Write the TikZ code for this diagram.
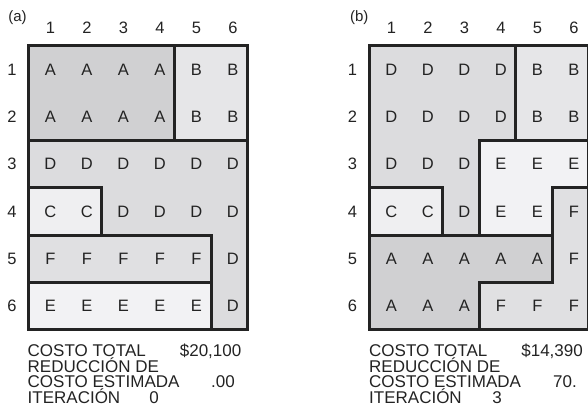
\documentclass[tikz,border=0pt]{standalone}
\usepackage{fontspec}
\setmainfont{Liberation Sans}
\definecolor{shadeA}{RGB}{208,208,210}
\definecolor{shadeB}{RGB}{230,230,232}
\definecolor{shadeC}{RGB}{239,239,241}
\definecolor{shadeD}{RGB}{220,220,222}
\definecolor{shadeE}{RGB}{242,242,244}
\definecolor{shadeF}{RGB}{224,224,226}
\definecolor{ink}{RGB}{35,35,35}
\begin{document}
\begin{tikzpicture}[
  x=1pt, y=-1pt,
  region/.style={draw=ink, line width=3pt, line join=miter},
  cell/.style={font=\fontsize{16.5}{16.5}\selectfont, text=ink, inner sep=0pt},
  axis/.style={font=\fontsize{16.5}{16.5}\selectfont, text=ink, inner sep=0pt},
  tag/.style={font=\fontsize{15}{15}\selectfont, text=ink, inner sep=0pt},
  summary/.style={font=\fontsize{17}{17}\selectfont, text=ink, inner sep=0pt}
]
\useasboundingbox (0,0) rectangle (588,414);
\clip (0,0) rectangle (588,414);

\begin{scope}[shift={(28.5,46)}, x=36.5pt, y=-47.3pt]
\filldraw[region, fill=shadeA] (0,0) rectangle (4,2);
\filldraw[region, fill=shadeB] (4,0) rectangle (6,2);
\filldraw[region, fill=shadeD] (0,2) -- (6,2) -- (6,6) -- (5,6) -- (5,4) -- (2,4) -- (2,3) -- (0,3) -- cycle;
\filldraw[region, fill=shadeC] (0,3) rectangle (2,4);
\filldraw[region, fill=shadeF] (0,4) rectangle (5,5);
\filldraw[region, fill=shadeE] (0,5) rectangle (5,6);
\node[tag] (a-tag) at (-0.3,-0.6) {(a)};
\foreach \c in {1,...,6}
  \node[axis] (a-col-\c) at (\c-0.4,-0.39) {\c};
\foreach \r in {1,...,6}
  \node[axis] (a-row-\r) at (-0.45,\r-0.5) {\r};
\foreach \row [count=\r] in {{A,A,A,A,B,B},{A,A,A,A,B,B},{D,D,D,D,D,D},
                             {C,C,D,D,D,D},{F,F,F,F,F,D},{E,E,E,E,E,D}}
  \foreach \l [count=\c] in \row
    \node[cell] (a-\r-\c) at (\c-0.4,\r-0.5) {\l};
\end{scope}

\begin{scope}[shift={(369.5,46)}, x=36.5pt, y=-47.3pt]
\filldraw[region, fill=shadeD] (0,0) -- (4,0) -- (4,2) -- (3,2) -- (3,4) -- (2,4) -- (2,3) -- (0,3) -- cycle;
\filldraw[region, fill=shadeB] (4,0) rectangle (6,2);
\filldraw[region, fill=shadeE] (3,2) -- (6,2) -- (6,3) -- (5,3) -- (5,4) -- (3,4) -- cycle;
\filldraw[region, fill=shadeC] (0,3) rectangle (2,4);
\filldraw[region, fill=shadeA] (0,4) -- (5,4) -- (5,5) -- (3,5) -- (3,6) -- (0,6) -- cycle;
\filldraw[region, fill=shadeF] (5,3) -- (6,3) -- (6,6) -- (3,6) -- (3,5) -- (5,5) -- cycle;
\node[tag] (b-tag) at (-0.28,-0.6) {(b)};
\foreach \c in {1,...,6}
  \node[axis] (b-col-\c) at (\c-0.4,-0.39) {\c};
\foreach \r in {1,...,6}
  \node[axis] (b-row-\r) at (-0.47,\r-0.5) {\r};
\foreach \row [count=\r] in {{D,D,D,D,B,B},{D,D,D,D,B,B},{D,D,D,E,E,E},
                             {C,C,D,E,E,F},{A,A,A,A,A,F},{A,A,A,F,F,F}}
  \foreach \l [count=\c] in \row
    \node[cell] (b-\r-\c) at (\c-0.4,\r-0.5) {\l};
\end{scope}

\node[summary, anchor=base west] (a-cost) at (27.5,356.5) {COSTO TOTAL};
\node[summary, anchor=base east] (a-costval) at (241.5,356.5) {\$20,100};
\node[summary, anchor=base west] (a-red) at (27.5,372.2) {REDUCCIÓN DE};
\node[summary, anchor=base west] (a-est) at (27.5,387.9) {COSTO ESTIMADA};
\node[summary, anchor=base east] (a-estval) at (235,387.9) {.00};
\node[summary, anchor=base west] (a-iter) at (27.5,403.6) {ITERACIÓN};
\node[summary, anchor=base] (a-iterval) at (154,403.6) {0};

\node[summary, anchor=base west] (b-cost) at (369,356.5) {COSTO TOTAL};
\node[summary, anchor=base east] (b-costval) at (583,356.5) {\$14,390};
\node[summary, anchor=base west] (b-red) at (369,372.2) {REDUCCIÓN DE};
\node[summary, anchor=base west] (b-est) at (369,387.9) {COSTO ESTIMADA};
\node[summary, anchor=base east] (b-estval) at (577,387.9) {70.};
\node[summary, anchor=base west] (b-iter) at (369,403.6) {ITERACIÓN};
\node[summary, anchor=base] (b-iterval) at (497,403.6) {3};
\end{tikzpicture}
\end{document}
